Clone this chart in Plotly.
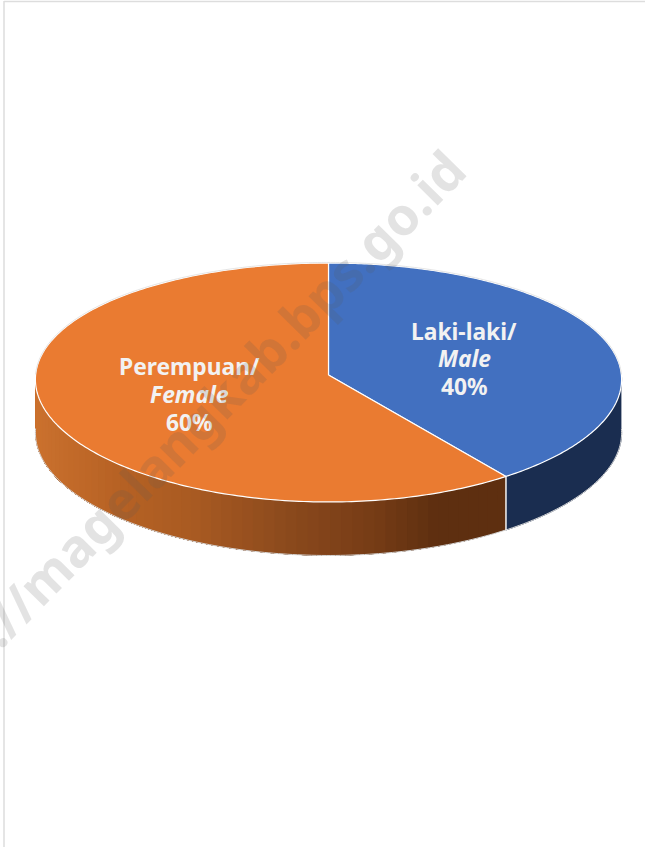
import numpy as np
import plotly.graph_objects as go

# --- chart data -------------------------------------------------------------
categories = ["Laki-laki/", "Perempuan/"]
categories_en = ["Male", "Female"]
shares = [40, 60]
watermark = "https://magelangkab.bps.go.id"

# --- look -------------------------------------------------------------------
W, H = 645, 847
TOP_COLORS = ["#4270C0", "#EA7B31"]
BLUE_SIDE = "#1A2D50"
ORANGE_STOPS = [(36, (203, 113, 46)), (120, (183, 98, 36)), (200, (168, 90, 34)),
                (300, (137, 72, 28)), (380, (118, 60, 22)), (440, (94, 47, 16)), (506, (94, 47, 16))]
CX, Y0, A, B, KX, KY = 328.5, 375.0, 292.9, 119.0, 0.037, 0.0628
DEPTH = 53.5
FONT = "Noto Sans"


def rim(frac):
    """Project a pie fraction (clockwise from 12 o'clock) onto the tilted disc."""
    t = 2 * np.pi * np.asarray(frac, dtype=float)
    u, v = np.sin(t), -np.cos(t)
    return CX + A * u / (1 - KX * v), Y0 + B * v / (1 - KY * v)


def orange(x):
    xs = [s[0] for s in ORANGE_STOPS]
    rgb = [np.interp(x, xs, [s[1][i] for s in ORANGE_STOPS]) for i in range(3)]
    return "rgb(%d,%d,%d)" % tuple(int(round(c)) for c in rgb)


def poly(x, y, fill, line=None, width=1.0, closed=True):
    return go.Scatter(
        x=list(x), y=list(y), mode="lines", hoverinfo="skip", showlegend=False,
        fill="toself" if closed else "none", fillcolor=fill if closed else None,
        line=dict(color=line or fill, width=width), line_simplify=False,
    )


fractions = np.array(shares, dtype=float) / sum(shares)
edges = np.concatenate([[0], np.cumsum(fractions)])
fig = go.Figure()

# Side wall, only the part facing the viewer (3 o'clock to 9 o'clock)
wall_start, wall_end = 0.25, 0.75
split = edges[1]
f = np.linspace(wall_start, split, 60)
x, y = rim(f)
fig.add_trace(poly(np.r_[x, x[::-1]], np.r_[y, y[::-1] + DEPTH], BLUE_SIDE))
# Painted right to left, each band running on to the far edge, so no seams show
strips = np.linspace(split, wall_end, 61)
for a in strips[:-1]:
    f = np.linspace(a, wall_end, 80)
    x, y = rim(f)
    fig.add_trace(poly(np.r_[x, x[::-1]], np.r_[y, y[::-1] + DEPTH], orange(x[0]), width=0))

# Faint outline of the lower rim and of the wall edges
f = np.linspace(wall_start, wall_end, 200)
x, y = rim(f)
fig.add_trace(poly(x, y + DEPTH, None, "#D8D8D8", 1.0, closed=False))
x, y = rim([split])
fig.add_trace(poly([x[0], x[0]], [y[0], y[0] + DEPTH], None, "#F4F4F4", 1.5, closed=False))

# Top face
for i in range(len(shares)):
    f = np.linspace(edges[i], edges[i + 1], 240)
    x, y = rim(f)
    fig.add_trace(poly(np.r_[CX, x, CX], np.r_[Y0, y, Y0], TOP_COLORS[i], "#FFFFFF", 1.2))
f = np.linspace(0.75, 1.25, 200)
x, y = rim(f)
fig.add_trace(poly(x, y - 0.6, None, "#DEDEDE", 0.8, closed=False))

# Labels
label_pos = [(464, 331, 358, 386), (189, 366, 394, 422)]
ann = []
for i in range(len(shares)):
    lx, y1, y2, y3 = label_pos[i]
    for yy, txt in ((y1, categories[i]), (y2, "<i>%s</i>" % categories_en[i]), (y3, "%d%%" % shares[i])):
        ann.append(dict(x=lx, y=yy, xref="x", yref="y", text=txt, showarrow=False,
                        xanchor="center", yanchor="middle",
                        font=dict(family=FONT, size=22.8, color="#F2F2F2", weight=700)))
ann.append(dict(x=171, y=447, xref="x", yref="y", text=watermark, showarrow=False, textangle=-45.5,
                xanchor="center", yanchor="middle",
                font=dict(family=FONT, size=52.5, color="rgba(90,90,90,0.17)", weight=700)))

fig.update_layout(
    width=W, height=H, margin=dict(l=0, r=0, t=0, b=0),
    paper_bgcolor="white", plot_bgcolor="white", showlegend=False,
    xaxis=dict(range=[0, W], visible=False, fixedrange=True),
    yaxis=dict(range=[H, 0], visible=False, fixedrange=True),
    annotations=ann,
    shapes=[
        dict(type="line", xref="x", yref="y", x0=4, x1=4, y0=1, y1=H, line=dict(color="#DDDDDD", width=1.5)),
        dict(type="line", xref="x", yref="y", x0=4, x1=W, y0=1.5, y1=1.5, line=dict(color="#DDDDDD", width=1.5)),
    ],
)
fig.write_html("out.html", config=dict(displayModeBar=False),
               post_script="document.body.style.margin='0';document.body.style.overflow='hidden';")
